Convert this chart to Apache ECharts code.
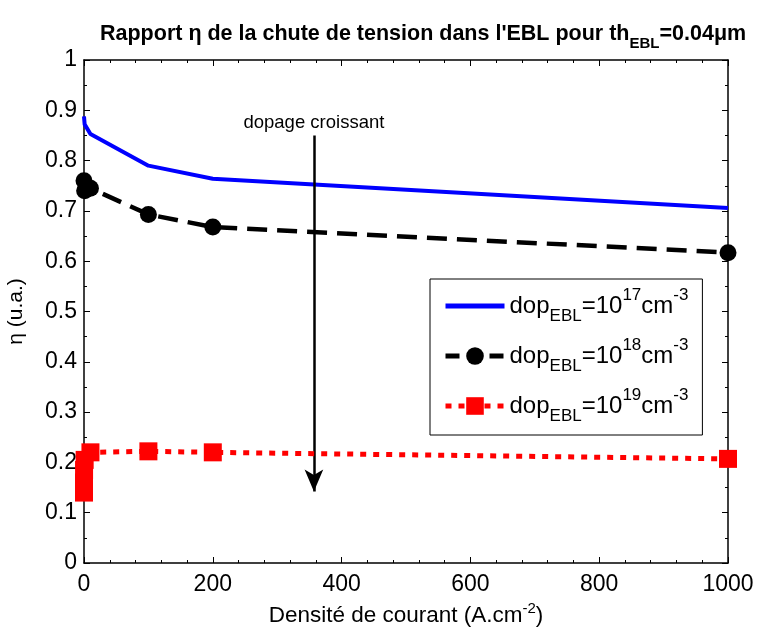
<!DOCTYPE html>
<html>
<head>
<meta charset="utf-8">
<script src="https://cdn.jsdelivr.net/npm/echarts@6/dist/echarts.min.js"></script>
<style>html,body{margin:0;padding:0;background:#fff}#c{width:759px;height:630px}</style>
</head>
<body>
<div id="c"></div>
<script>
// ---- data ----
const blueX = [0, 1, 10, 100, 200, 1000];
const blueY = [0.888, 0.872, 0.853, 0.790, 0.764, 0.706];
const blackX = [0, 1, 10, 100, 200, 1000];
const blackY = [0.760, 0.740, 0.745, 0.693, 0.668, 0.617];
const redX = [0, 0.01, 0.1, 1, 10, 100, 200, 1000];
const redY = [0.140, 0.160, 0.185, 0.205, 0.220, 0.222, 0.220, 0.207];
const seriesNames = ['dop17', 'dop18', 'dop19'];
const legendExp = {dop17: '17', dop18: '18', dop19: '19'};
const arrowX = 357;
const arrowY = [0.85, 0.142];
const arrowLabel = 'dopage croissant';

const FONT = 'Liberation Sans, Arial, sans-serif';
const NARROW = 'Liberation Sans Narrow, Arial Narrow, sans-serif';
const zip = (xs, ys) => xs.map((x, i) => [x, ys[i]]);

const chart = echarts.init(document.getElementById('c'), null, {renderer: 'canvas'});
const legendRich = {
  b: {fontSize: 24, fontFamily: FONT, color: '#000', verticalAlign: 'middle', lineHeight: 38},
  sub: {fontSize: 17, fontFamily: FONT, color: '#000', verticalAlign: 'bottom', lineHeight: 38},
  sup: {fontSize: 17, fontFamily: FONT, color: '#000', verticalAlign: 'top', lineHeight: 38}
};
chart.setOption({
  animation: false,
  backgroundColor: '#fff',
  title: {
    text: "{t|Rapport η de la chute de tension dans l'EBL pour th}{s|EBL}{t|=0.04μm}",
    left: 95, top: 12,
    textStyle: {
      rich: {
        t: {fontSize: 21.5, fontWeight: 'bold', fontFamily: NARROW, color: '#000', verticalAlign: 'middle', lineHeight: 34},
        s: {fontSize: 15, fontWeight: 'bold', fontFamily: NARROW, color: '#000', verticalAlign: 'bottom', lineHeight: 34}
      }
    }
  },
  grid: {left: 84, right: 31, top: 60, bottom: 67, containLabel: false, outerBoundsMode: 'none'},
  legend: {
    orient: 'vertical',
    left: 430, top: 279,
    padding: [8, 14, 10, 13],
    itemGap: 12,
    itemWidth: 59, itemHeight: 22,
    borderColor: '#000', borderWidth: 1,
    backgroundColor: '#fff',
    data: [
      {name: seriesNames[0], itemStyle: {opacity: 0}, lineStyle: {width: 5}},
      {name: seriesNames[1], lineStyle: {width: 5, type: [14, 8]}},
      {name: seriesNames[2], lineStyle: {width: 5, type: [6, 7]}}
    ],
    formatter: n => '{b|dop}{sub|EBL}{b|=10}{sup|' + legendExp[n] + '}{b|cm}{sup|-3}',
    textStyle: {rich: legendRich}
  },
  xAxis: [{
    type: 'value', min: 0, max: 1000, interval: 200,
    name: 'Densité de courant (A.cm{sup|-2})',
    nameLocation: 'middle', nameGap: 34,
    nameTextStyle: {
      rich: {
        sup: {fontSize: 15, fontFamily: FONT, color: '#000', verticalAlign: 'top', lineHeight: 30}
      },
      fontSize: 22.5, fontFamily: FONT, color: '#000', lineHeight: 30
    },
    axisLine: {onZero: false, lineStyle: {color: '#000', width: 1.5}},
    axisTick: {inside: true, length: 6, lineStyle: {color: '#000', width: 1}},
    minorTick: {show: true, splitNumber: 5, length: 3, lineStyle: {color: '#000'}},
    axisLabel: {fontSize: 23, fontFamily: FONT, color: '#000', margin: 10,
      formatter: v => String(v)},
    splitLine: {show: false}
  }, {
    type: 'value', position: 'top', min: 0, max: 1000, interval: 200,
    axisLine: {onZero: false, lineStyle: {color: '#000', width: 1.5}},
    axisTick: {inside: true, length: 6, lineStyle: {color: '#000'}},
    minorTick: {show: true, splitNumber: 5, length: 3, lineStyle: {color: '#000'}},
    axisLabel: {show: false}, splitLine: {show: false}
  }],
  yAxis: [{
    type: 'value', min: 0, max: 1, interval: 0.1,
    name: 'η (u.a.)', nameLocation: 'middle', nameGap: 57,
    nameTextStyle: {fontSize: 21, fontFamily: FONT, color: '#000'},
    axisLine: {onZero: false, lineStyle: {color: '#000', width: 1.5}},
    axisTick: {inside: true, length: 6, lineStyle: {color: '#000'}},
    minorTick: {show: true, splitNumber: 2, length: 3, lineStyle: {color: '#000'}},
    axisLabel: {fontSize: 23, fontFamily: FONT, color: '#000', margin: 7,
      formatter: v => String(Math.round(v * 10) / 10)},
    splitLine: {show: false}
  }, {
    type: 'value', position: 'right', min: 0, max: 1, interval: 0.1,
    axisLine: {onZero: false, lineStyle: {color: '#000', width: 1.5}},
    axisTick: {inside: true, length: 6, lineStyle: {color: '#000'}},
    minorTick: {show: true, splitNumber: 2, length: 3, lineStyle: {color: '#000'}},
    axisLabel: {show: false}, splitLine: {show: false}
  }],
  series: [{
    name: seriesNames[0], type: 'line', data: zip(blueX, blueY),
    showSymbol: false, symbol: 'none', color: '#0000ff',
    lineStyle: {color: '#0000ff', width: 4},
    z: 3,
    markLine: {
      silent: true, symbol: ['none', 'arrow'], symbolSize: [14, 22],
      lineStyle: {color: '#000', width: 2.5, type: 'solid'},
      label: {show: true, position: 'start', formatter: arrowLabel, fontSize: 18.5, fontFamily: FONT, color: '#000', distance: 3},
      data: [[{coord: [arrowX, arrowY[0]]}, {coord: [arrowX, arrowY[1]]}]]
    }
  }, {
    name: seriesNames[1], type: 'line', data: zip(blackX, blackY),
    symbol: 'circle', symbolSize: 17, color: '#000',
    itemStyle: {color: '#000'},
    lineStyle: {color: '#000', width: 4.5, type: [20, 10]},
    z: 4
  }, {
    name: seriesNames[2], type: 'line', data: zip(redX, redY),
    symbol: 'rect', symbolSize: 18, color: '#ff0000',
    itemStyle: {color: '#ff0000'},
    lineStyle: {color: '#ff0000', width: 5, type: [6, 7]},
    z: 5
  }]
});
</script>
</body>
</html>
